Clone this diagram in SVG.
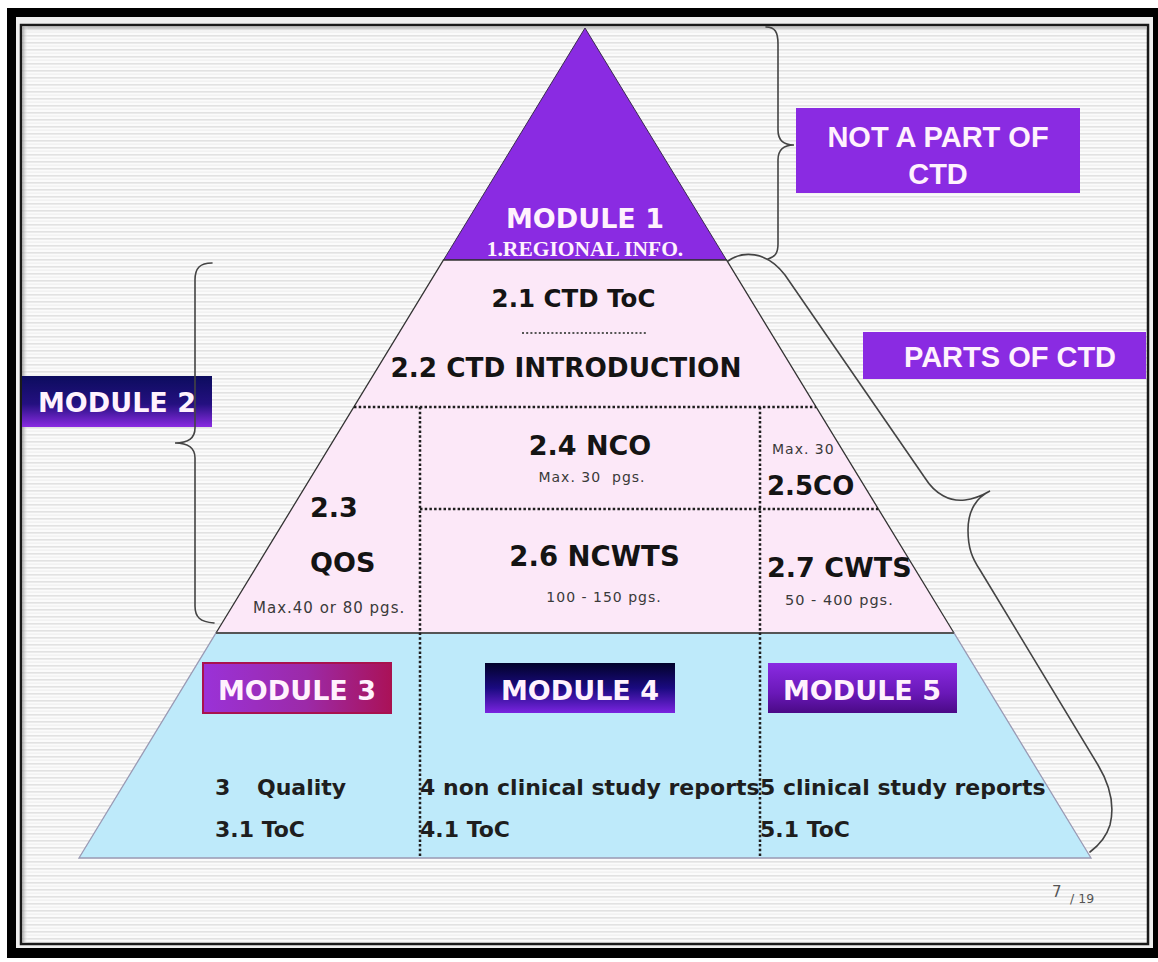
<svg xmlns="http://www.w3.org/2000/svg" width="1158" height="962" viewBox="0 0 1158 962">
  <defs>
    <!-- faint horizontal ruled background -->
    <pattern id="stripes" patternUnits="userSpaceOnUse" width="12" height="7">
      <rect width="12" height="7" fill="#fbfbfb"/>
      <rect y="0" width="12" height="1.6" fill="#e2e2e2"/>
      <rect y="3.6" width="12" height="1" fill="#ededed"/>
    </pattern>
    <linearGradient id="shadeTop" x1="0" y1="0" x2="0" y2="1">
      <stop offset="0" stop-color="#9a9a9a" stop-opacity="0.8"/>
      <stop offset="1" stop-color="#ffffff" stop-opacity="0"/>
    </linearGradient>
    <linearGradient id="shadeLeft" x1="0" y1="0" x2="1" y2="0">
      <stop offset="0" stop-color="#9a9a9a" stop-opacity="0.8"/>
      <stop offset="1" stop-color="#ffffff" stop-opacity="0"/>
    </linearGradient>
    <!-- module label fills -->
    <linearGradient id="gMod2" x1="0" y1="0" x2="0" y2="1">
      <stop offset="0" stop-color="#0c0c5e"/>
      <stop offset="0.55" stop-color="#241080"/>
      <stop offset="1" stop-color="#8a2be2"/>
    </linearGradient>
    <linearGradient id="gMod3" x1="0" y1="0" x2="1" y2="0">
      <stop offset="0" stop-color="#9a32d8"/>
      <stop offset="0.55" stop-color="#9c2aa8"/>
      <stop offset="1" stop-color="#aa1258"/>
    </linearGradient>
    <linearGradient id="gMod4" x1="0" y1="0" x2="0" y2="1">
      <stop offset="0" stop-color="#02022a"/>
      <stop offset="0.5" stop-color="#1a0a80"/>
      <stop offset="1" stop-color="#7a24e0"/>
    </linearGradient>
    <linearGradient id="gMod5" x1="0" y1="0" x2="0" y2="1">
      <stop offset="0" stop-color="#8a2be2"/>
      <stop offset="0.6" stop-color="#6a18b8"/>
      <stop offset="1" stop-color="#4a0a86"/>
    </linearGradient>
    <style>
      .lbl { font-family: "DejaVu Sans", Verdana, sans-serif; font-weight: bold; fill: #fff2fd; }
      .box { font-family: "Liberation Sans", Arial, sans-serif; font-weight: bold; font-size: 29px; fill: #fff2fd; }
      .t { font-family: "DejaVu Sans", Verdana, sans-serif; font-weight: bold; fill: #141414; }
      .s { font-family: "DejaVu Sans", Verdana, sans-serif; fill: #3a3a3a; letter-spacing: 1px; }
      .bt { font-family: "DejaVu Sans", Verdana, sans-serif; font-weight: bold; font-size: 22px; fill: #1e1e1e; }
      .dot { stroke: #1e1e1e; stroke-width: 2.5; stroke-dasharray: 2.5 2.2; fill: none; }
      .brace { stroke: #444; stroke-width: 1.6; fill: none; stroke-linecap: round; }
    </style>
  </defs>

  <!-- page frame -->
  <rect width="1158" height="962" fill="#ffffff"/>
  <rect x="7" y="8" width="1151" height="950" fill="#000"/>
  <rect x="16" y="17" width="1137" height="931" fill="#efefef"/>
  <rect x="21" y="25" width="1127" height="919" fill="url(#stripes)" stroke="#1a1a1a" stroke-width="2.5"/>
  <rect x="22.5" y="26.5" width="1124" height="6" fill="url(#shadeTop)"/>
  <rect x="22.5" y="26.5" width="6" height="916" fill="url(#shadeLeft)"/>

  <!-- pyramid tiers -->
  <g id="tier-module1">
    <polygon points="585,28 726.5,260 443.5,260" fill="#8a2be2" stroke="#3a2a50" stroke-width="1"/>
    <text class="lbl" x="585" y="228" font-size="27" text-anchor="middle">MODULE 1</text>
    <text x="585" y="256" font-family="Liberation Serif, Times New Roman, serif" font-weight="bold" font-size="21.5" fill="#fff2fd" text-anchor="middle">1.REGIONAL INFO.</text>
  </g>

  <g id="tier-module2">
    <polygon points="443.5,260 726.5,260 954,633 216,633" fill="#fce8f8" stroke="#333" stroke-width="1.3"/>
  </g>

  <g id="tier-modules345">
    <polygon points="216,633 954,633 1091,858 79,858" fill="#beeafa" stroke="#9a9ab4" stroke-width="1.3"/>
    <line x1="216" y1="633" x2="954" y2="633" stroke="#555" stroke-width="1.8"/>
  </g>

  <!-- cell dividers -->
  <g id="dividers">
    <line class="dot" x1="354" y1="407" x2="816" y2="407"/>
    <line class="dot" x1="420" y1="509" x2="878" y2="509"/>
    <line class="dot" x1="420" y1="407" x2="420" y2="858"/>
    <line class="dot" x1="760" y1="407" x2="760" y2="858"/>
    <line x1="522" y1="333" x2="648" y2="333" stroke="#555" stroke-width="2" stroke-dasharray="2 2.2"/>
  </g>

  <!-- module 2 cells -->
  <g id="cell-2-1">
    <text class="t" x="573.5" y="307" font-size="24.5" text-anchor="middle">2.1 CTD ToC</text>
  </g>
  <g id="cell-2-2">
    <text class="t" x="566" y="377" font-size="26.3" text-anchor="middle">2.2 CTD INTRODUCTION</text>
  </g>
  <g id="cell-2-3">
    <text class="t" x="310" y="517" font-size="27">2.3</text>
    <text class="t" x="310" y="572" font-size="27">QOS</text>
    <text class="s" x="253" y="613" font-size="15">Max.40 or 80 pgs.</text>
  </g>
  <g id="cell-2-4">
    <text class="t" x="590" y="455" font-size="27" text-anchor="middle">2.4 NCO</text>
    <text class="s" x="592" y="482" font-size="14" text-anchor="middle" xml:space="preserve">Max. 30  pgs.</text>
  </g>
  <g id="cell-2-5">
    <text class="s" x="772" y="454" font-size="14">Max. 30</text>
    <text class="t" x="767" y="495" font-size="26">2.5CO</text>
  </g>
  <g id="cell-2-6">
    <text class="t" x="594.5" y="566" font-size="27.5" text-anchor="middle">2.6 NCWTS</text>
    <text class="s" x="604" y="602" font-size="14" text-anchor="middle">100 - 150 pgs.</text>
  </g>
  <g id="cell-2-7">
    <text class="t" x="767" y="577" font-size="27">2.7 CWTS</text>
    <text class="s" x="785" y="605" font-size="14.5">50 - 400 pgs.</text>
  </g>

  <!-- modules 3, 4, 5 -->
  <g id="module3">
    <rect x="203" y="663" width="188" height="50" fill="url(#gMod3)" stroke="#a8124e" stroke-width="2"/>
    <text class="lbl" x="297" y="700" font-size="27" text-anchor="middle">MODULE 3</text>
    <text class="bt" x="215" y="795">3</text>
    <text class="bt" x="257" y="795">Quality</text>
    <text class="bt" x="215" y="837">3.1 ToC</text>
  </g>
  <g id="module4">
    <rect x="485" y="663" width="190" height="50" fill="url(#gMod4)"/>
    <text class="lbl" x="580" y="700" font-size="27" text-anchor="middle">MODULE 4</text>
    <text class="bt" x="420" y="795">4 non clinical study reports</text>
    <text class="bt" x="420" y="837">4.1 ToC</text>
  </g>
  <g id="module5">
    <rect x="768" y="663" width="189" height="50" fill="url(#gMod5)"/>
    <text class="lbl" x="862" y="700" font-size="27" text-anchor="middle">MODULE 5</text>
    <text class="bt" x="760" y="795">5 clinical study reports</text>
    <text class="bt" x="760" y="837">5.1 ToC</text>
  </g>

  <!-- side labels -->
  <g id="label-module2">
    <rect x="22" y="376" width="190" height="51" fill="url(#gMod2)"/>
    <text class="lbl" x="117" y="412" font-size="27" text-anchor="middle">MODULE 2</text>
  </g>
  <g id="label-not-ctd">
    <rect x="796" y="108" width="284" height="85" fill="#8a2be2"/>
    <text class="box" x="938" y="147" text-anchor="middle">NOT A PART OF</text>
    <text class="box" x="938" y="184" text-anchor="middle">CTD</text>
  </g>
  <g id="label-parts-ctd">
    <rect x="863" y="332" width="283" height="47" fill="#8a2be2"/>
    <text class="box" x="1010" y="367" text-anchor="middle">PARTS OF CTD</text>
  </g>

  <!-- grouping braces -->
  <g id="connectors">
    <path class="brace" d="M 766 27 C 775 27 778 32 778 44 L 778 130 C 778 140 783 145 794 145 C 783 145 778 150 778 160 L 778 244 C 778 253 775 257 768 259"/>
    <path class="brace" d="M 212 263 C 200 263 195 268 195 280 L 195 428 C 195 438 188 443 175 443 C 188 443 195 448 195 458 L 195 606 C 195 617 200 622 214 623"/>
    <path class="brace" d="M 728 261 C 742 251 766 250 785 275 L 925 478 C 935 494 950 502 965 500 C 975 499 983 495 990 491 C 977 497 968 510 968 530 C 968 548 972 558 980 570 L 1098 765 C 1110 785 1115 805 1110 825 C 1106 838 1098 846 1090 852"/>
  </g>

  <!-- page number -->
  <g id="page-number">
    <text x="1052" y="897" font-family="DejaVu Sans, sans-serif" font-size="15" fill="#555">7</text>
    <text x="1070" y="903" font-family="DejaVu Sans, sans-serif" font-size="12.5" fill="#555">/ 19</text>
  </g>
</svg>
